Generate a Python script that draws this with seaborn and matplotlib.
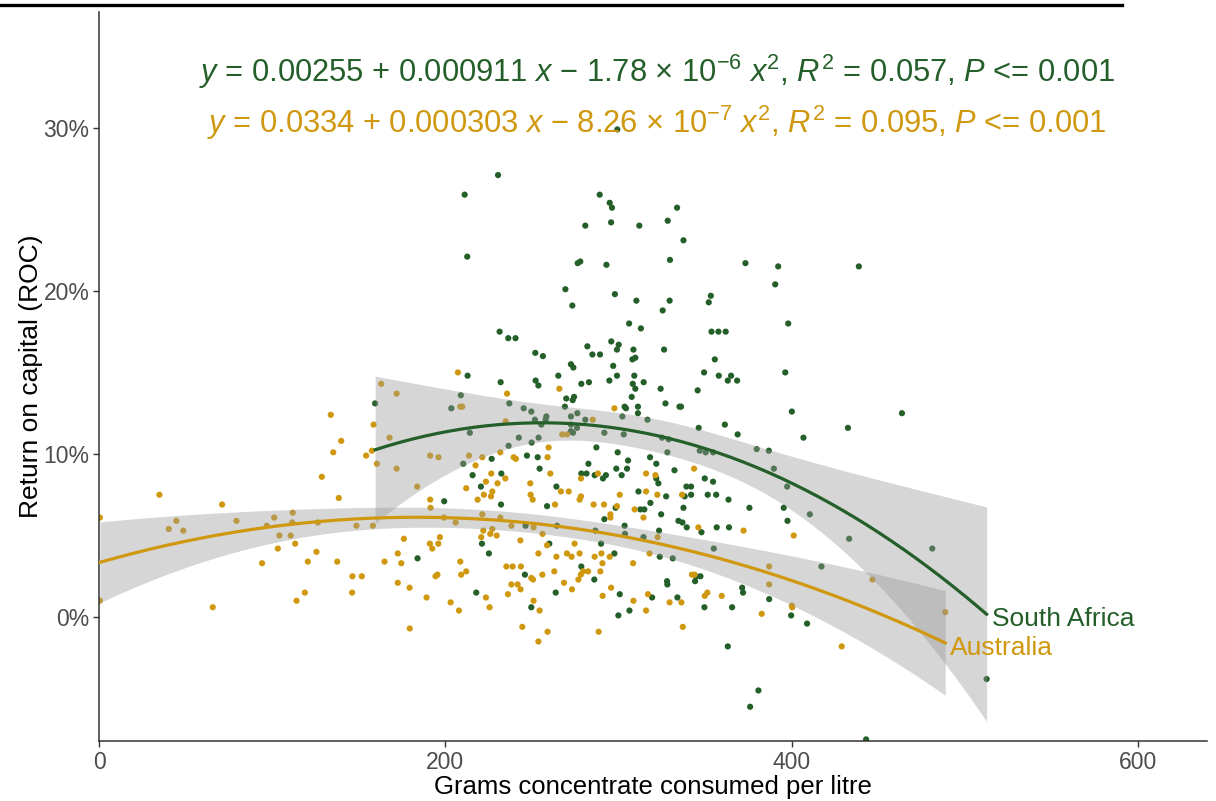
import numpy as np
import pandas as pd
import matplotlib
matplotlib.use("Agg")
import matplotlib.pyplot as plt
from matplotlib.lines import Line2D
from matplotlib.ticker import PercentFormatter
import seaborn as sns

# ---------------------------------------------------------------------------
# Data: grams of concentrate consumed per litre vs return on capital (%)
# ---------------------------------------------------------------------------
sa_grams = [
    159.5, 184.0,
    236.6, 249.9, 210.4, 226.8, 232.4, 215.8, 220.6, 247.2, 253.4, 254.5, 264.2, 287.3,
    282.7, 278.6, 281.6, 286.3, 291.1, 292.8, 299.6, 298.8, 301.9, 305.0, 305.6, 318.3,
    321.9, 321.9, 323.1, 332.4, 328.3, 311.6, 327.6, 318.5, 312.7, 315.0, 324.7, 334.7,
    298.4, 291.9, 303.6, 258.8, 232.2, 199.4, 323.5, 314.5, 290.0, 221.2, 260.1, 225.2,
    297.7, 323.9, 331.4, 278.6, 246.0, 286.1, 328.1, 328.3, 217.9, 263.8, 300.8, 319.5,
    334.1, 249.7, 306.4, 300.0, 246.4, 264.5, 286.7, 303.8,
    230.5, 211.2, 212.7, 289.2, 295.0, 296.3, 280.9, 295.8, 312.1, 328.5, 333.9, 276.5,
    278.0, 293.1, 329.8, 269.4, 273.4, 298.0, 310.4, 329.6, 325.6, 306.2, 313.0, 231.4,
    236.4, 240.6, 252.0, 256.4, 282.1, 285.0, 289.4, 295.9, 300.2, 299.2, 308.7, 308.1,
    309.8, 326.4, 272.6, 274.0, 297.0, 212.9, 232.0, 252.2, 253.8, 265.3, 278.6, 283.0,
    294.8, 299.2, 309.2, 308.3, 309.8, 314.6, 324.4, 307.7, 269.9, 274.4, 273.6, 269.1,
    303.6, 304.4, 311.3, 311.3, 327.2, 335.3, 209.0, 203.5, 237.0, 245.3, 249.7, 251.8,
    258.4, 258.0, 255.5, 272.6, 272.6, 276.3, 280.9, 276.1, 273.8, 272.6, 302.3, 316.8,
    214.2, 242.5, 253.9, 291.9, 303.1, 325.2, 329.1,
    337.6, 373.4, 392.3, 438.9, 390.6, 353.4, 352.2, 398.1, 353.8, 357.8, 362.0, 355.7,
    349.5, 358.0, 365.1, 363.2, 368.6, 396.4, 345.8, 336.2, 400.2, 463.8, 346.4, 361.5,
    368.9, 406.9, 432.6, 379.9, 386.9,
    347.0, 350.4, 354.7, 389.8, 397.5, 349.9, 354.7, 339.3, 342.0, 338.3, 342.0, 351.6,
    356.5, 363.6, 375.7, 395.5, 337.6, 410.6, 397.7, 337.0, 339.5, 348.0, 356.8, 363.9,
    433.3, 481.3, 355.1, 417.3, 344.9, 347.4, 344.3, 371.5, 372.0, 387.1, 349.7, 365.7,
    399.8, 409.0, 363.2, 380.9, 376.1, 512.7, 443.1, 299.4,
]
sa_roc_pct = [
    13.1, 3.6,
    10.5, 10.7, 9.4, 9.7, 8.8, 8.7, 8.0, 9.9, 9.8, 9.1, 8.0, 10.4,
    9.4, 8.8, 8.8, 8.7, 8.5, 8.7, 10.1, 9.1, 8.7, 9.1, 9.6, 9.8,
    9.4, 8.5, 8.2, 9.0, 10.1, 7.7, 7.4, 7.0, 6.6, 6.6, 6.3, 5.9,
    6.7, 6.0, 5.6, 6.8, 6.9, 7.1, 5.3, 4.9, 4.5, 4.5, 4.5, 3.9,
    3.9, 3.7, 3.6, 3.1, 2.6, 2.3, 2.2, 2.0, 1.5, 1.5, 1.4, 1.2,
    1.2, 0.6, 0.4, 0.1, 5.6, 5.6, 5.3, 5.1,
    27.1, 25.9, 22.1, 25.9, 25.4, 25.1, 24.0, 24.2, 24.0, 24.3, 25.1, 21.7,
    21.8, 21.6, 21.9, 20.1, 19.1, 19.8, 19.4, 19.4, 18.8, 18.0, 17.7, 17.5,
    17.1, 17.1, 16.2, 16.0, 16.6, 16.1, 16.1, 16.9, 16.7, 16.4, 16.4, 15.8,
    15.9, 16.4, 15.5, 15.3, 15.4, 14.8, 14.4, 14.5, 14.2, 14.8, 14.3, 14.4,
    14.5, 14.8, 14.8, 14.3, 14.0, 14.4, 14.0, 13.5, 13.4, 13.5, 13.3, 12.9,
    12.9, 12.8, 12.9, 12.5, 13.1, 12.9, 13.6, 12.8, 13.1, 12.8, 12.6, 12.1,
    12.3, 12.1, 11.8, 12.3, 11.8, 12.5, 12.1, 11.6, 11.3, 11.4, 12.3, 12.1,
    11.3, 11.0, 11.0, 11.3, 11.2, 11.0, 10.9,
    23.1, 21.7, 21.5, 21.5, 20.4, 19.7, 19.3, 18.0, 17.5, 17.5, 17.5, 15.8,
    15.0, 14.8, 14.8, 14.5, 14.5, 15.0, 13.9, 12.9, 12.6, 12.5, 11.6, 11.8,
    11.2, 11.0, 11.6, 10.3, 10.2,
    10.2, 10.1, 10.1, 9.1, 8.0, 8.5, 8.3, 8.0, 8.0, 7.4, 7.5, 7.5,
    7.5, 7.2, 6.7, 6.7, 6.7, 6.3, 5.9, 5.8, 5.5, 5.2, 5.5, 5.5,
    4.8, 4.2, 4.2, 3.1, 2.5, 2.5, 2.2, 1.8, 1.5, 1.1, 0.6, 0.6,
    0.1, -0.4, -1.8, -4.5, -5.5, -3.8, -7.5, 29.9,
]

au_grams = [
    0.5, 0.5, 34.9, 40.3, 44.7, 48.7, 65.7, 71.1, 79.4, 94.2, 96.9, 101.2,
    104.2, 103.3, 110.7, 111.9, 111.6, 113.3, 114.1, 118.9, 120.6, 125.6, 126.4, 128.7,
    133.9, 135.3, 138.5, 137.6, 139.9, 146.4, 151.8, 146.2, 148.7, 154.3, 157.6, 158.2,
    158.6, 160.5, 163.0, 167.8, 171.9, 171.9, 164.9, 172.6, 172.6,
    191.3, 196.1, 183.8, 191.3, 191.5, 176.1, 174.6, 191.1, 196.0, 192.5, 196.9, 179.4,
    194.4, 195.5, 189.2, 179.5,
    213.7, 221.4, 231.8, 239.5, 240.8, 259.7, 259.1, 217.5, 226.6, 234.7, 223.5, 230.2,
    212.1, 227.2, 222.3, 226.4, 218.7, 249.1, 249.3, 250.5, 260.7, 263.4, 266.8, 271.3,
    278.4, 277.6, 278.4, 285.7, 288.2, 291.7, 295.4, 295.4, 300.8, 299.2, 309.4, 314.5,
    316.0, 316.0, 322.5, 321.4, 199.2, 221.4, 231.8, 222.0, 220.8, 227.2, 226.0, 229.7,
    206.0, 238.2, 251.0, 256.2, 243.4, 253.8, 258.8, 264.2, 270.3, 273.0, 274.7, 277.6,
    286.3, 290.2, 290.8, 295.0, 208.7, 209.2, 212.1, 235.3, 238.9, 243.7, 249.7, 250.7,
    256.1, 263.0, 238.2, 241.8, 243.5, 236.2, 268.6, 273.2, 276.9, 278.3, 279.6, 282.5,
    289.6, 295.8, 308.5, 318.0, 290.9, 308.7, 316.0, 317.1, 329.6, 203.1, 207.9, 223.5,
    225.6, 251.0, 254.5, 244.5, 259.1, 253.8, 288.6, 322.7,
    207.3, 235.7, 208.7, 209.8, 265.9, 297.7, 285.2, 234.9, 267.6, 270.3,
    343.7, 336.8, 346.2, 372.3, 401.3, 387.1, 387.1, 446.8, 488.8, 342.5, 344.0, 349.9,
    351.4, 359.7, 336.4, 337.2, 382.8, 400.2, 400.4, 429.0,
]
au_roc_pct = [
    6.1, 1.0, 7.5, 5.4, 5.9, 5.3, 0.6, 6.9, 5.9, 3.3, 5.6, 6.1,
    5.0, 4.2, 5.0, 6.4, 5.8, 4.5, 1.0, 1.5, 3.4, 4.0, 5.8, 8.6,
    12.4, 10.1, 7.3, 3.4, 10.8, 2.5, 2.5, 1.5, 5.6, 9.9, 10.2, 5.6,
    11.8, 9.4, 14.3, 11.0, 13.7, 9.1, 3.4, 3.9, 2.1,
    9.9, 9.8, 8.0, 7.2, 6.7, 4.8, 3.3, 4.5, 4.5, 4.2, 4.9, 1.8,
    2.5, 2.6, 1.2, -0.7,
    9.9, 9.8, 10.1, 9.8, 9.7, 10.4, 9.8, 9.3, 8.8, 8.5, 8.3, 8.2,
    7.9, 7.7, 7.5, 7.4, 7.2, 8.2, 7.5, 7.2, 8.8, 6.9, 7.7, 7.7,
    8.5, 7.2, 7.4, 6.9, 8.8, 6.9, 6.3, 6.1, 7.5, 6.8, 6.6, 6.1,
    7.7, 8.8, 7.5, 8.7, 6.1, 6.3, 6.1, 5.3, 4.9, 5.4, 5.1, 5.0,
    5.8, 5.6, 5.5, 5.1, 4.7, 3.9, 4.4, 3.7, 3.9, 3.7, 4.5, 3.9,
    3.7, 3.9, 3.3, 3.7, 3.4, 2.6, 2.8, 3.1, 3.1, 3.1, 2.4, 2.3,
    2.6, 2.8, 2.0, 2.0, 1.7, 1.4, 2.1, 1.7, 2.3, 2.6, 2.8, 2.8,
    2.8, 1.8, 3.3, 3.9, 1.3, 1.0, 0.4, 1.4, 0.9, 0.9, 0.4, 1.2,
    0.6, 1.0, 0.4, -0.6, -0.9, -1.5, -0.9, 4.9,
    15.0, 13.7, 12.9, 12.9, 14.0, 12.8, 12.1, 12.0, 11.2, 11.2,
    9.1, 7.5, 5.5, 5.3, 5.0, 3.1, 2.0, 2.3, 0.3, 2.6, 2.6, 1.3,
    1.5, 1.3, 0.9, -0.6, 0.2, 0.7, 0.6, -1.8,
]

# Quadratic fits (intercept, linear, quadratic) and their summary statistics
countries = ["South Africa", "Australia"]
sa_coef = [0.00255, 0.000911, -1.78e-6]
au_coef = [0.0334, 0.000303, -8.26e-7]
sa_exp = [1.78, -6]
au_exp = [8.26, -7]
r_squared = [0.057, 0.095]
p_label = ["0.001", "0.001"]

colors = {"South Africa": "#245F2A", "Australia": "#CF980F"}

# ---------------------------------------------------------------------------
df = pd.concat([
    pd.DataFrame({"grams": sa_grams, "roc": np.array(sa_roc_pct) / 100, "country": "South Africa"}),
    pd.DataFrame({"grams": au_grams, "roc": np.array(au_roc_pct) / 100, "country": "Australia"}),
], ignore_index=True)

plt.rcParams["font.family"] = ["Liberation Sans", "DejaVu Sans"]
plt.rcParams["mathtext.fontset"] = "custom"
plt.rcParams["mathtext.rm"] = "Liberation Sans"
plt.rcParams["mathtext.it"] = "Liberation Sans:italic"
plt.rcParams["mathtext.bf"] = "Liberation Sans:bold"

fig = plt.figure(figsize=(12.16, 8.01), dpi=100)
ax = fig.add_axes([99 / 1216, 60 / 801, 1108 / 1216, 729 / 801])

sns.scatterplot(data=df, x="grams", y="roc", hue="country", palette=colors,
                s=20, edgecolor="none", linewidth=0, legend=False, ax=ax, zorder=1)


def quad_band(x, y, coef, grid, t=1.97):
    """Fitted curve and confidence band for a quadratic with given coefficients."""
    x = np.asarray(x, float)
    y = np.asarray(y, float)
    X = np.column_stack([np.ones_like(x), x, x ** 2])
    resid = y - X @ np.asarray(coef)
    sigma2 = resid @ resid / (len(x) - 3)
    xtx_inv = np.linalg.inv(X.T @ X)
    G = np.column_stack([np.ones_like(grid), grid, grid ** 2])
    fit = G @ np.asarray(coef)
    se = np.sqrt(sigma2 * np.einsum("ij,jk,ik->i", G, xtx_inv, G))
    return fit, fit - t * se, fit + t * se


fits = {}
for name, coef in zip(countries, [sa_coef, au_coef]):
    sub = df[df.country == name]
    grid = np.linspace(sub.grams.min(), sub.grams.max(), 200)
    fit, lo, hi = quad_band(sub.grams, sub.roc, coef, grid)
    fits[name] = (grid, fit, lo, hi)
    ax.fill_between(grid, lo, hi, color="#999999", alpha=0.4, linewidth=0, zorder=2)

for name in countries:
    grid, fit, lo, hi = fits[name]
    sns.lineplot(x=grid, y=fit, color=colors[name], linewidth=2.3, ax=ax, zorder=3)
    ax.text(grid[-1] + 3, fit[-1] - 0.003, name, color=colors[name], fontsize=19,
            ha="left", va="center", zorder=4)

# Fit equations
for i, (name, coef, ex) in enumerate(zip(countries, [sa_coef, au_coef], [sa_exp, au_exp])):
    eq = (r"$\mathit{y}$ = " + f"{coef[0]:g}" + " + " + f"{coef[1]:.6f}".rstrip("0")
          + r" $\mathit{x}$ $-$ " + f"{ex[0]:.2f}" + r" $\times$ 10$^{" + f"{ex[1]}" + r"}$"
          + r" $\mathit{x}^{2}$, $\mathit{R}^{2}$ = " + f"{r_squared[i]:.3f}"
          + r", $\mathit{P}$ <= " + p_label[i])
    ax.text(0.5035, [0.918, 0.848][i], eq, transform=ax.transAxes, color=colors[name],
            fontsize=22.2, ha="center", va="center", zorder=5)

ax.set_xlim(0, 640)
ax.set_ylim(-0.076, 0.371)
ax.set_xticks([0, 200, 400, 600])
ax.set_yticks([0, 0.1, 0.2, 0.3])
ax.yaxis.set_major_formatter(PercentFormatter(1.0, decimals=0))

ax.set_xlabel("Grams concentrate consumed per litre", fontsize=18.5, color="black", labelpad=1)
ax.set_ylabel("Return on capital (ROC)", fontsize=19, color="black", labelpad=0)

for side in ["top", "right"]:
    ax.spines[side].set_visible(False)
for side in ["left", "bottom"]:
    ax.spines[side].set_color("#333333")
    ax.spines[side].set_linewidth(1.1)
ax.tick_params(axis="both", colors="#333333", length=4, width=1.0, labelsize=16.5,
               labelcolor="#4D4D4D", pad=3)
ax.set_facecolor("white")

# Rule across the top of the figure
fig.add_artist(Line2D([0, 1122 / 1216], [1 - 5 / 801, 1 - 5 / 801], transform=fig.transFigure,
                      color="black", linewidth=2.4))

fig.savefig("out.png", dpi=100, facecolor="white")
